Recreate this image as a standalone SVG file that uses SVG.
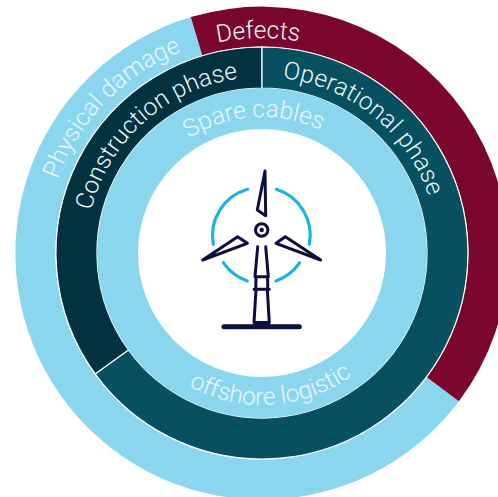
<svg xmlns="http://www.w3.org/2000/svg" width="498" height="497" viewBox="0 0 498 497">
  <style>
    .seg{stroke:#fff;stroke-width:1.2}
    .lab{font-family:"Roboto","Liberation Sans",sans-serif;font-weight:300;font-size:24.5px;fill:#e9f6fb;text-anchor:middle}
    .dark{fill:none;stroke:#0b0f40;stroke-width:3;stroke-linecap:round;stroke-linejoin:round}
    .blue{fill:none;stroke:#1cb4de;stroke-width:3.2;stroke-linecap:round}
  </style>
  <defs>
    <path id="r218" d="M45 253A217 217 0 0 1 479 253"/>
    <path id="r216" d="M47 253A215 215 0 0 1 477 253"/>
    <path id="r177" d="M86 253A176 176 0 0 1 438 253"/>
    <path id="r137" d="M126 253A136 136 0 0 1 398 253"/>
    <path id="b152" d="M110 253A152 152 0 0 0 414 253"/>
  </defs>
  <rect width="498" height="497" fill="#fff"/>
  <g id="physical-damage">
    <path d="M458.9 401.3A246.5 246.5 0 1 1 190.8 17.1L202.3 55.4A206.5 206.5 0 1 0 426.9 377.3Z" fill="#8ad6ef"/>
    <g transform="rotate(-46 262 253)"><text class="lab"><textPath href="#r218" startOffset="50%">Physical damage</textPath></text></g>
  </g>
  <g id="defects">
    <path d="M190.8 17.1A246.5 246.5 0 0 1 458.9 401.3L426.9 377.3A206.5 206.5 0 0 0 202.3 55.4Z" fill="#7a062e"/>
    <g transform="rotate(-1 262 253)"><text class="lab"><textPath href="#r216" startOffset="50%">Defects</textPath></text></g>
  </g>
  <g id="construction-phase">
    <path class="seg" d="M95.3 374.1A206 206 0 0 1 262 47V88A165 165 0 0 0 128.5 350Z" fill="#02313f"/>
    <g transform="rotate(-42 262 253)"><text class="lab"><textPath href="#r177" startOffset="50%">Construction phase</textPath></text></g>
  </g>
  <g id="operational-phase">
    <path class="seg" d="M262 47A206 206 0 1 1 95.3 374.1L128.5 350A165 165 0 1 0 262 88Z" fill="#07505f"/>
    <g transform="rotate(39 262 253)"><text class="lab" letter-spacing="0.25"><textPath href="#r177" startOffset="50%">Operational phase</textPath></text></g>
  </g>
  <g id="spare-cables">
    <circle cx="262" cy="253" r="144.5" fill="none" stroke="#8ad6ef" stroke-width="41"/>
    <g transform="rotate(-3.5 262 253)"><text class="lab"><textPath href="#r137" startOffset="50%">Spare cables</textPath></text></g>
  </g>
  <g id="offshore-logistic">
    <g transform="rotate(-3.8 262 253)"><text class="lab"><textPath href="#b152" startOffset="50%">offshore logistic</textPath></text></g>
  </g>
  <g id="turbine">
    <path class="blue" d="M247.7 189.3A48 48 0 0 0 213.3 244.3M276.3 189.3A48 48 0 0 1 309.3 244.3M223.3 262.7A48 48 0 0 0 247.3 281M299.7 262.7A48 48 0 0 1 276 281"/>
    <path class="dark" d="M265 171L257.3 210L265.7 215.7ZM202.7 260L237.7 236.7L247.3 243.3ZM320.7 260L285.3 236.7L276 243.3Z"/>
    <circle class="dark" cx="261.7" cy="230" r="6.2"/>
    <circle cx="261.7" cy="230" r="2.2" fill="#0b0f40"/>
    <path class="dark" d="M257.7 246.7L255 276.7H268.3L265.7 246.7M254 289.3H269.3M256 276.7L255.8 289.3M267.6 276.7L267.8 289.3M256 289.3L254 322.7M267.3 289.3L269.3 322.7"/>
    <path d="M254 321H269.5L270 326H253.5Z" fill="#0b0f40"/>
    <path class="dark" d="M224 326.7H299.3" style="stroke-width:5"/>
  </g>
</svg>
